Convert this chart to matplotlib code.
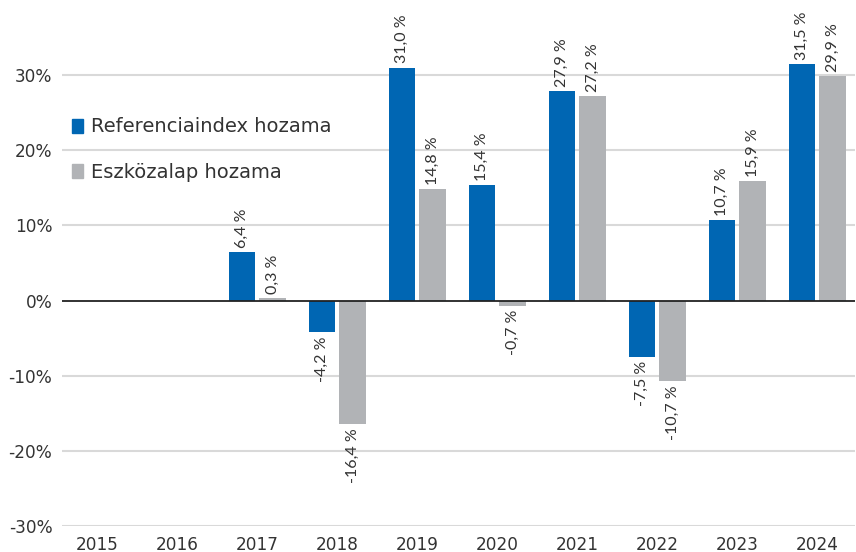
import numpy as np
import matplotlib.pyplot as plt
from matplotlib.patches import Patch

years = ['2015', '2016', '2017', '2018', '2019', '2020', '2021', '2022', '2023', '2024']
ref_index = [np.nan, np.nan, 6.4, -4.2, 31.0, 15.4, 27.9, -7.5, 10.7, 31.5]
fund = [np.nan, np.nan, 0.3, -16.4, 14.8, -0.7, 27.2, -10.7, 15.9, 29.9]
yticks = [-30, -20, -10, 0, 10, 20, 30]

blue = '#0066B3'
gray = '#B1B3B6'
txt = '#333333'

plt.rcParams['font.family'] = ['DejaVu Sans']

fig = plt.figure(figsize=(8.56, 5.52), dpi=100)
ax = fig.add_axes([62 / 856, 26 / 552, 793 / 856, 526 / 552])

x = np.arange(len(years))
w = 0.33
off = 0.19
ax.bar(x - off, ref_index, w, color=blue, zorder=3)
ax.bar(x + off, fund, w, color=gray, zorder=3)

def label(xs, vals):
    for xi, v in zip(xs, vals):
        if np.isnan(v):
            continue
        s = f'{v:.1f}'.replace('.', ',') + ' %'
        dy, va = (3, 'bottom') if v >= 0 else (-3, 'top')
        ax.annotate(s, (xi, v), xytext=(0, dy), textcoords='offset points',
                    rotation=90, ha='center', va=va, fontsize=11.5, color=txt,
                    family=['Lato', 'DejaVu Sans'])

label(x - off, ref_index)
label(x + off, fund)

ax.set_ylim(-30, 40)
ax.set_xlim(-0.44, 9.47)
ax.set_yticks(yticks)
ax.set_yticklabels([f'{t}%' for t in yticks])
ax.set_xticks(x)
ax.set_xticklabels(years)
ax.tick_params(length=0, labelsize=12.2, colors=txt)
ax.tick_params(axis='y', pad=7)
ax.tick_params(axis='x', pad=7)
for s in ax.spines.values():
    s.set_visible(False)
for t in yticks:
    if t != 0:
        ax.axhline(t, color='#D9D9D9', lw=1.5, zorder=1)
ax.axhline(0, color='#222222', lw=1.3, zorder=4)

handles = [Patch(color=blue, label='Referenciaindex hozama'),
           Patch(color=gray, label='Eszközalap hozama')]
ax.legend(handles=handles, loc='upper left', bbox_to_anchor=(-0.01, 0.81),
          frameon=False, fontsize=14, handlelength=0.6, handleheight=0.75,
          handletextpad=0.4, labelspacing=1.35, labelcolor=txt)

fig.savefig('out.png', dpi=100)
